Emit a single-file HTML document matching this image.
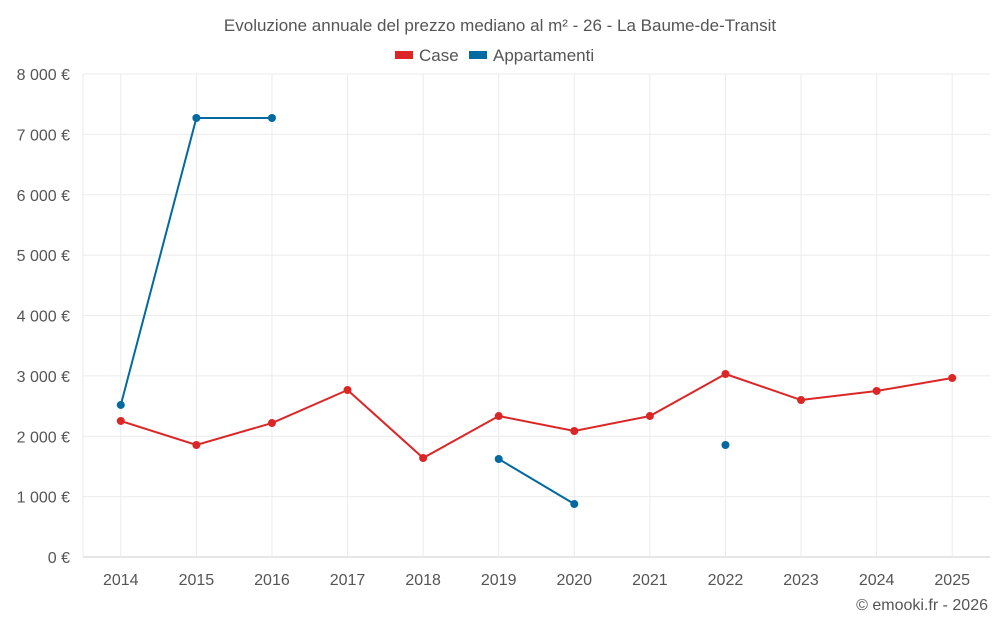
<!DOCTYPE html>
<html><head><meta charset="utf-8">
<style>
body{margin:0;background:#fff;font-family:"Liberation Sans",sans-serif;}
svg text{font-family:"Liberation Sans",sans-serif;}
</style></head>
<body>
<svg id="chart" width="1000" height="625">
<text x="500" y="31" text-anchor="middle" font-size="17" fill="#555">Evoluzione annuale del prezzo mediano al m² - 26 - La Baume-de-Transit</text>
<g><rect x="395" y="51" width="18" height="8" fill="#dc2626"/><text x="419" y="61" font-size="17" fill="#555">Case</text></g>
<g><rect x="469" y="51" width="18" height="8" fill="#0369a1"/><text x="493" y="61" font-size="17" fill="#555">Appartamenti</text></g>
<g id="grid"></g><g id="axes"></g><g id="series"></g>
<text x="988" y="610" text-anchor="end" font-size="16" fill="#555">© emooki.fr - 2026</text>
</svg>
<script>
const years=[2014,2015,2016,2017,2018,2019,2020,2021,2022,2023,2024,2025];
const caseValues=[2253,1855,2219,2766,1640,2335,2087,2335,3031,2600,2750,2965];
const apptValues=[2518,7271,7271,null,null,1623,878,null,1855,null,null,null];
const yTicks=[0,1000,2000,3000,4000,5000,6000,7000,8000];
const yTickLabels=["0 €","1 000 €","2 000 €","3 000 €","4 000 €","5 000 €","6 000 €","7 000 €","8 000 €"];
const NS="http://www.w3.org/2000/svg";
const L=83,R=990,T=74,B=557;
const step=(R-L)/years.length;
const x=i=>L+step*(i+0.5);
const y=v=>B-(v/8000)*(B-T);
function mk(tag,attrs,parent){const e=document.createElementNS(NS,tag);for(const k in attrs)e.setAttribute(k,attrs[k]);parent.appendChild(e);return e;}
const grid=document.getElementById('grid'),axes=document.getElementById('axes'),ser=document.getElementById('series');
yTicks.forEach((t,i)=>{
 const g=mk('line',{x1:L,x2:R,y1:y(t),y2:y(t),stroke:i==0?'#ccc':'#ebebeb'},grid);
 
 
 const tx=mk('text',{x:70,y:y(t)+6,'text-anchor':'end','font-size':16,fill:'#555'},axes);
 tx.textContent=yTickLabels[i];
 
 
});
const lg=mk('line',{x1:L,x2:L,y1:T,y2:B,stroke:'#ebebeb'},grid);


years.forEach((yr,i)=>{
 const g=mk('line',{x1:x(i),x2:x(i),y1:T,y2:B,stroke:'#ebebeb'},grid);
 
 
 const tx=mk('text',{x:x(i),y:585,'text-anchor':'middle','font-size':16,fill:'#555'},axes);
 tx.textContent=yr;
 
 
});
function draw(vals,color,name){
 let seg=[];
 const flush=()=>{if(seg.length>1){const p=mk('polyline',{points:seg.join(' '),fill:'none',stroke:color,'stroke-width':2},ser);
 
 }seg=[];};
 vals.forEach((v,i)=>{if(v==null){flush();return;}seg.push(x(i)+','+y(v));});
 flush();
 vals.forEach((v,i)=>{if(v==null)return;const c=mk('circle',{cx:x(i),cy:y(v),r:4,fill:color},ser);
 
 });
}
draw(caseValues,'#dc2626','case');
draw(apptValues,'#0369a1','appartamenti');
</script>
</body></html>
